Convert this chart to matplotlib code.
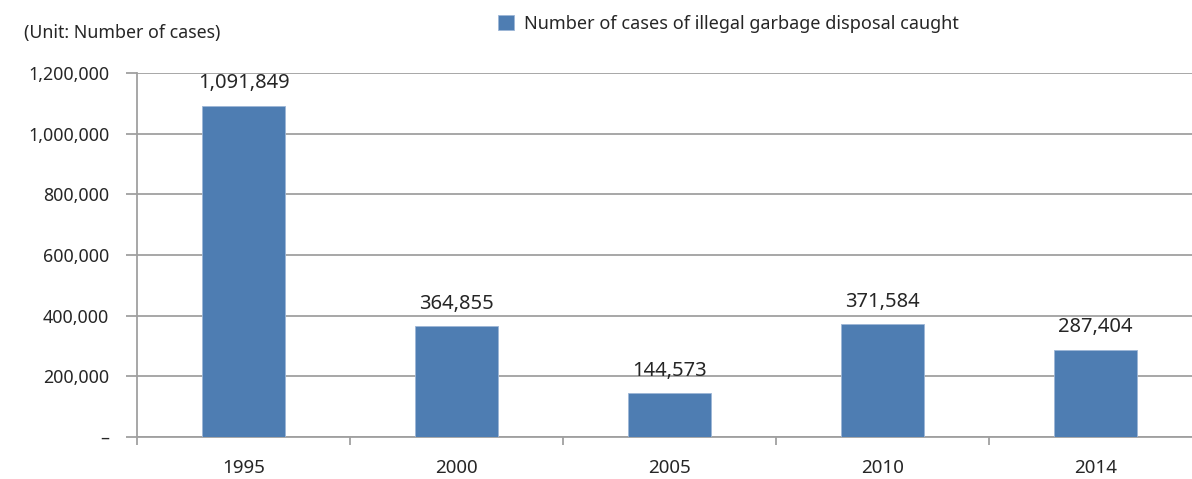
import matplotlib
matplotlib.use("Agg")
import matplotlib.pyplot as plt
import numpy as np

# Illegal garbage disposal cases caught, by year
years = ["1995", "2000", "2005", "2010", "2014"]
cases = [1091849, 364855, 144573, 371584, 287404]
y_ticks = [0, 200000, 400000, 600000, 800000, 1000000, 1200000]
y_labels = ["–", "200,000", "400,000", "600,000", "800,000", "1,000,000", "1,200,000"]

plt.rcParams["font.family"] = ["Noto Sans", "DejaVu Sans"]
text_color = "#262626"
grid_color = "#a0a0a0"
bar_color = "#4e7db2"

fig = plt.figure(figsize=(11.92, 4.79), dpi=100)
ax = fig.add_axes([137 / 1192, (479 - 437) / 479, 1065 / 1192, 364 / 479])

x = np.arange(len(years))
bars = ax.bar(x, cases, width=0.39, color=bar_color, edgecolor="#9db6d6",
              linewidth=0.6, zorder=3, label="Number of cases of illegal garbage disposal caught")

# value labels above each bar
for xi, val in zip(x, cases):
    ax.annotate(f"{val:,}", (xi, val), xytext=(0, 9), textcoords="offset points",
                ha="center", va="bottom", fontsize=14.5, color=text_color)

ax.set_xlim(-0.5, len(years) - 0.5)
ax.set_ylim(0, 1200000)

ax.set_yticks(y_ticks)
ax.set_yticklabels(y_labels)
ax.yaxis.grid(True, color=grid_color, linewidth=1.3, zorder=0)
ax.tick_params(axis="y", length=8, width=1.3, color=grid_color, pad=12,
               labelsize=12.8, labelcolor=text_color)

ax.set_xticks(x)
ax.set_xticklabels(years)
ax.set_xticks(np.arange(len(years) + 1) - 0.5, minor=True)
ax.tick_params(axis="x", which="major", length=0, pad=16, labelsize=13.5, labelcolor=text_color)
ax.tick_params(axis="x", which="minor", length=6, width=1.3, color=grid_color)

for side in ["top", "right"]:
    ax.spines[side].set_visible(False)
for side in ["left", "bottom"]:
    ax.spines[side].set_color(grid_color)
    ax.spines[side].set_linewidth(1.3)

fig.text(24 / 1192, 1 - 33 / 479, "(Unit: Number of cases)", fontsize=12.8,
         color=text_color, va="center", ha="left")

ax.legend(loc="center left", bbox_to_anchor=(491 / 1192, 1 - 24 / 479),
          bbox_transform=fig.transFigure, frameon=False, fontsize=13,
          handlelength=0.9, handleheight=0.9, handletextpad=0.55,
          labelcolor=text_color, borderaxespad=0)

fig.savefig("out.png", dpi=100)
